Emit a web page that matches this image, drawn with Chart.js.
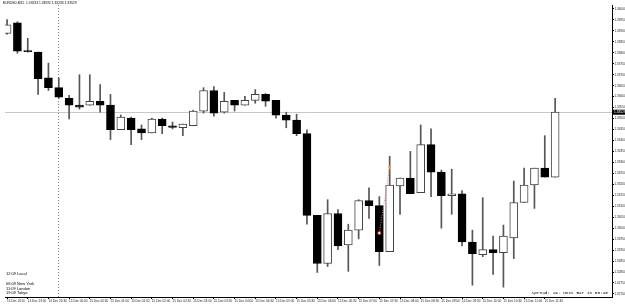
<!DOCTYPE html>
<html>
<head>
<meta charset="utf-8">
<script src="https://cdn.jsdelivr.net/npm/chart.js@4.4.0/dist/chart.umd.min.js"></script>
<style>
  body { margin: 0; background: #fff; }
  canvas { display: block; }
</style>
</head>
<body>
<canvas id="eurusdChart" width="625" height="304"></canvas>
<script>
// **Candle data (EURUSD M15)**
const opens  = [1.33888, 1.33937, 1.33807, 1.33803, 1.33686, 1.33641, 1.33592, 1.33561, 1.33561, 1.33579,
                1.33561, 1.33449, 1.33502, 1.33453, 1.33435, 1.33498, 1.33467, 1.33458, 1.33467, 1.33534,
                1.33628, 1.33529, 1.33583, 1.33561, 1.33583, 1.33610, 1.33583, 1.33516, 1.33493, 1.33431,
                1.33058, 1.32839, 1.33067, 1.32924, 1.32991, 1.33126, 1.33103, 1.32893, 1.33193, 1.33229,
                1.33162, 1.33381, 1.33256, 1.33148, 1.33157, 1.32937, 1.32879, 1.32902, 1.32888, 1.32955,
                1.33117, 1.33197, 1.33274, 1.33233];
const highs  = [1.33951, 1.33942, 1.33866, 1.33803, 1.33753, 1.33686, 1.33606, 1.33700, 1.33700, 1.33655,
                1.33610, 1.33516, 1.33507, 1.33471, 1.33502, 1.33502, 1.33484, 1.33475, 1.33538, 1.33641,
                1.33646, 1.33619, 1.33583, 1.33601, 1.33632, 1.33614, 1.33583, 1.33529, 1.33520, 1.33449,
                1.33058, 1.33130, 1.33085, 1.33018, 1.33130, 1.33184, 1.33144, 1.33328, 1.33229, 1.33350,
                1.33471, 1.33453, 1.33265, 1.33269, 1.33171, 1.32991, 1.33139, 1.32964, 1.33014, 1.33215,
                1.33274, 1.33274, 1.33422, 1.33592];
const lows   = [1.33885, 1.33798, 1.33803, 1.33610, 1.33628, 1.33592, 1.33498, 1.33543, 1.33561, 1.33529,
                1.33404, 1.33449, 1.33381, 1.33404, 1.33435, 1.33431, 1.33453, 1.33422, 1.33467, 1.33525,
                1.33511, 1.33525, 1.33534, 1.33561, 1.33570, 1.33556, 1.33502, 1.33458, 1.33422, 1.33018,
                1.32798, 1.32825, 1.32902, 1.32803, 1.32951, 1.33045, 1.32830, 1.32893, 1.33063, 1.33157,
                1.33162, 1.33144, 1.33000, 1.33063, 1.32919, 1.32740, 1.32870, 1.32789, 1.32731, 1.32861,
                1.33117, 1.33090, 1.33233, 1.33233];
const closes = [1.33928, 1.33807, 1.33805, 1.33682, 1.33641, 1.33597, 1.33561, 1.33552, 1.33579, 1.33561,
                1.33449, 1.33507, 1.33449, 1.33435, 1.33498, 1.33467, 1.33460, 1.33475, 1.33534, 1.33628,
                1.33525, 1.33579, 1.33561, 1.33583, 1.33610, 1.33579, 1.33516, 1.33493, 1.33431, 1.33058,
                1.32839, 1.33067, 1.32919, 1.32991, 1.33126, 1.33103, 1.32893, 1.33197, 1.33229, 1.33157,
                1.33381, 1.33256, 1.33148, 1.33157, 1.32937, 1.32884, 1.32902, 1.32888, 1.32964, 1.33117,
                1.33197, 1.33274, 1.33233, 1.33529];

// **Axis labels**
const timeLabels = ["14 Dec 2010", "14 Dec 23:00", "14 Dec 23:30", "15 Dec 00:00", "15 Dec 00:30", "15 Dec 01:00",
                    "15 Dec 01:30", "15 Dec 02:00", "15 Dec 02:30", "15 Dec 03:00", "15 Dec 03:30", "15 Dec 04:00",
                    "15 Dec 04:30", "15 Dec 05:00", "15 Dec 05:30", "15 Dec 06:00", "15 Dec 06:30", "15 Dec 07:00",
                    "15 Dec 07:30", "15 Dec 08:00", "15 Dec 08:30", "15 Dec 09:00", "15 Dec 09:30", "15 Dec 10:00",
                    "15 Dec 10:30", "15 Dec 11:00", "15 Dec 11:30"];
const priceTicks = [1.34000, 1.33950, 1.33900, 1.33850, 1.33800, 1.33750, 1.33700, 1.33650, 1.33600,
                    1.33550, 1.33500, 1.33450, 1.33400, 1.33350, 1.33300, 1.33250, 1.33200, 1.33150,
                    1.33100, 1.33050, 1.33000, 1.32950, 1.32900, 1.32850, 1.32800, 1.32750, 1.32700];

// trade arrow (open marker -> close marker)
const tradeBars   = [36, 37];
const tradePrices = [1.32978, 1.33278];

const sessionTexts = ["12:09 Local", "", "06:09 New York", "11:09 London", "19:09 Tokyo"];
const headerText = "EURUSD,M15  1.33233 1.33592 1.33233 1.33529";
const statusText = "Spread: 29. Next Bar in 05:48";

const lastClose = closes[closes.length - 1];

const bodies = opens.map((o, i) => ({ x: i, y: [o, closes[i]] }));
const wicks = lows.map((l, i) => ({ x: i, y: [l, highs[i]] }));
const bullish = opens.map((o, i) => closes[i] >= o);

// **Overlay: price line, separator, texts**
const terminalOverlay = {
    id: 'terminalOverlay',
    beforeDatasetsDraw(chart) {
        const { ctx, chartArea, scales } = chart;
        const yLast = Math.round(scales.y.getPixelForValue(lastClose)) + 0.5;
        const xSep = Math.round(scales.x.getPixelForValue(5)) - 0.5;
        ctx.save();
        ctx.strokeStyle = '#c8c8c8';
        ctx.lineWidth = 1;
        ctx.beginPath();
        ctx.moveTo(chartArea.left, yLast);
        ctx.lineTo(chartArea.right, yLast);
        ctx.stroke();
        ctx.strokeStyle = '#808080';
        ctx.setLineDash([1, 2]);
        ctx.beginPath();
        ctx.moveTo(xSep, chartArea.top);
        ctx.lineTo(xSep, chartArea.bottom);
        ctx.stroke();
        ctx.restore();
    },
    afterDraw(chart) {
        const { ctx, chartArea, scales } = chart;
        ctx.save();
        ctx.fillStyle = '#000';
        ctx.textBaseline = 'middle';
        ctx.font = '3.3px "Liberation Sans"';
        ctx.fillText(headerText, 3, 3.5);

        ctx.font = '4px "Liberation Sans"';
        sessionTexts.forEach((t, i) => {
            if (t) ctx.fillText(t, 6, 274 + i * 4.8);
        });

        ctx.font = '4.4px "Liberation Mono"';
        ctx.textAlign = 'right';
        ctx.fillText(statusText, chartArea.right - 4, 293);

        // current price box on the price scale
        const yLast = scales.y.getPixelForValue(lastClose);
        ctx.fillStyle = '#000';
        ctx.fillRect(chartArea.right + 1, yLast - 2.5, 13, 5);
        ctx.fillStyle = '#fff';
        ctx.textAlign = 'left';
        ctx.font = '3.2px "Liberation Sans"';
        ctx.fillText(lastClose.toFixed(5), chartArea.right + 2, yLast);
        ctx.restore();
    }
};

// **Create the chart**
function createCandleChart() {
    const ctx = document.getElementById('eurusdChart').getContext('2d');
    return new Chart(ctx, {
        type: 'bar',
        data: {
            datasets: [
                {
                    type: 'line',
                    data: tradeBars.map((b, i) => ({ x: b, y: tradePrices[i] })),
                    borderColor: '#e08080',
                    borderWidth: 1,
                    borderDash: [1, 1.5],
                    pointRadius: [1.6, 1],
                    pointBackgroundColor: ['#fff', '#f0a040'],
                    pointBorderColor: ['#e02020', '#f0a040'],
                    pointBorderWidth: 1,
                    order: -1
                },
                {
                    data: bodies,
                    grouped: false,
                    barThickness: 8,
                    minBarLength: 1,
                    backgroundColor: bullish.map(b => b ? '#ffffff' : '#000000'),
                    borderColor: bullish.map(b => b ? '#444444' : '#000000'),
                    borderWidth: 1,
                    borderSkipped: false,
                    order: 0
                },
                {
                    data: wicks,
                    grouped: false,
                    barThickness: 1,
                    backgroundColor: '#555555',
                    order: 1
                }
            ]
        },
        options: {
            responsive: false,
            animation: false,
            devicePixelRatio: 1,
            layout: { padding: 0 },
            plugins: { legend: { display: false }, tooltip: { enabled: false } },
            scales: {
                x: {
                    type: 'linear',
                    offset: false,
                    min: -0.2,
                    max: 58.5,
                    afterBuildTicks: scale => {
                        scale.ticks = timeLabels.map((t, i) => ({ value: i * 2 }));
                    },
                    afterFit: scale => {
                        scale.height = 7;
                        scale.paddingLeft = 0;
                        scale.paddingRight = 0;
                    },
                    grid: { offset: false, drawOnChartArea: false, drawTicks: true, tickLength: 2, color: '#000' },
                    border: { display: true, color: '#000' },
                    ticks: {
                        autoSkip: false,
                        maxRotation: 0,
                        align: 'start',
                        padding: 0,
                        color: '#222',
                        font: { family: 'Liberation Sans', size: 3.1 },
                        callback: value => timeLabels[value / 2] || ''
                    }
                },
                y: {
                    position: 'right',
                    min: 1.32686,
                    max: 1.34018,
                    afterBuildTicks: scale => {
                        scale.ticks = priceTicks.map(v => ({ value: v }));
                    },
                    afterFit: scale => {
                        scale.width = 13;
                        scale.paddingTop = 0;
                        scale.paddingBottom = 0;
                    },
                    grid: { drawOnChartArea: false, drawTicks: true, tickLength: 2, color: '#000' },
                    border: { display: true, color: '#000' },
                    ticks: {
                        padding: 0.5,
                        color: '#222',
                        font: { family: 'Liberation Sans', size: 3.1 },
                        callback: value => value.toFixed(5)
                    }
                }
            }
        },
        plugins: [terminalOverlay]
    });
}

document.addEventListener("DOMContentLoaded", function () {
    try {
        createCandleChart();
    } catch (error) {
        console.error('Error creating candle chart:', error);
    }
});
</script>
</body>
</html>
